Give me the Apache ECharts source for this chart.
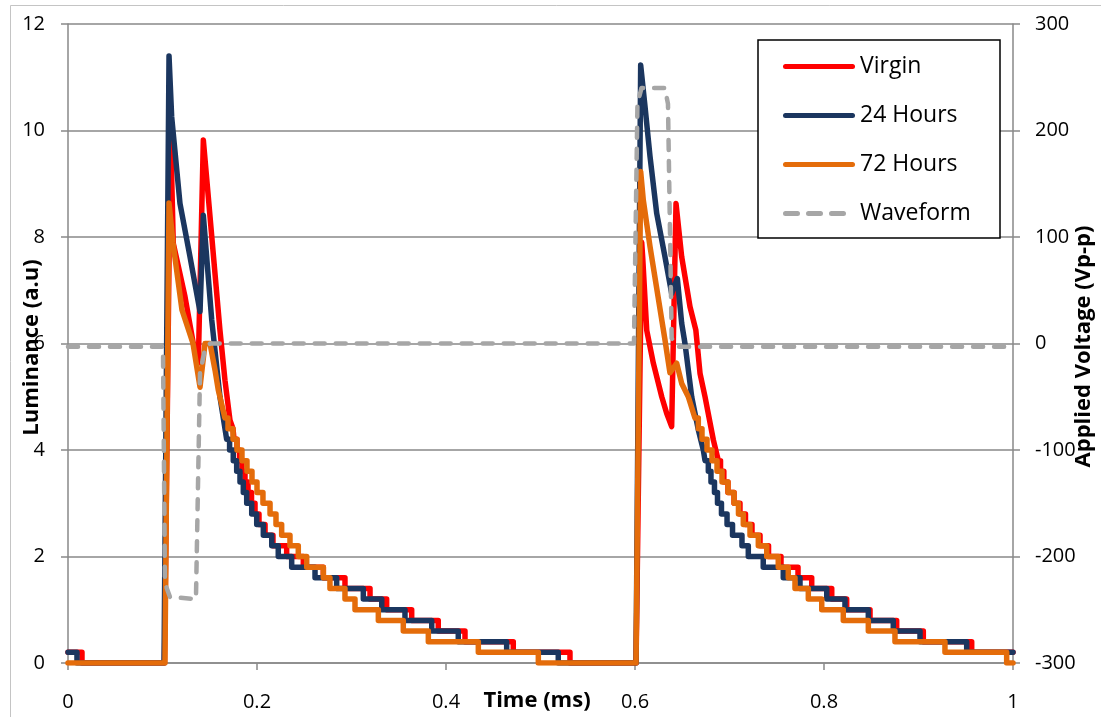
<!DOCTYPE html>
<html>
<head>
<meta charset="utf-8">
<script src="https://cdn.jsdelivr.net/npm/echarts@6/dist/echarts.min.js"></script>
<style>
  html, body { margin: 0; padding: 0; background: #fff; }
  #chart { width: 1101px; height: 717px; }
</style>
</head>
<body>
<div id="chart"></div>
<script>
// Tick labels
const timeTicks = ['0', '0.2', '0.4', '0.6', '0.8', '1'];
const lumTicks = ['0', '2', '4', '6', '8', '10', '12'];
const voltTicks = ['-300', '-200', '-100', '0', '100', '200', '300'];

const seriesNames = ['Virgin', '24 Hours', '72 Hours', 'Waveform'];

// Luminance traces: [time (ms), luminance (a.u)]
const virgin = [
  [0, 0.2], [0.0148, 0.2], [0.0148, 0],
  [0.1021, 0], [0.1085, 10.05], [0.1114, 7.88], [0.1238, 6.88], [0.1326, 6.0], [0.1379, 5.63],
  [0.1432, 9.82], [0.1608, 6.25], [0.1661, 5.31], [0.1714, 4.56], [0.1746, 4.4],
  [0.1757, 4.4], [0.1757, 4.2], [0.1788, 4.2], [0.1788, 4.0], [0.1815, 4.0], [0.1815, 3.8],
  [0.1841, 3.8], [0.1841, 3.6], [0.1873, 3.6], [0.1873, 3.4], [0.1905, 3.4], [0.1905, 3.2],
  [0.1942, 3.2], [0.1942, 3.0], [0.1979, 3.0], [0.1979, 2.8], [0.2021, 2.8], [0.2021, 2.6],
  [0.2085, 2.6], [0.2085, 2.4], [0.2169, 2.4], [0.2169, 2.2], [0.2314, 2.2], [0.2314, 2.0],
  [0.2490, 2.0], [0.2490, 1.8], [0.2702, 1.8], [0.2702, 1.6], [0.2931, 1.6], [0.2931, 1.4],
  [0.3196, 1.4], [0.3196, 1.2], [0.3372, 1.2], [0.3372, 1.0], [0.3637, 1.0], [0.3637, 0.8],
  [0.3918, 0.8], [0.3918, 0.6], [0.4201, 0.6], [0.4201, 0.4], [0.4712, 0.4], [0.4712, 0.2],
  [0.5312, 0.2], [0.5312, 0],
  [0.6011, 0], [0.6071, 7.9], [0.6081, 7.63], [0.6124, 6.25], [0.6194, 5.63], [0.6283, 5.0],
  [0.6335, 4.69], [0.6388, 4.44], [0.6434, 8.63], [0.6494, 7.63], [0.6582, 6.69], [0.6644, 6.25],
  [0.6688, 5.44], [0.6741, 5.0], [0.6829, 4.19], [0.6882, 3.8],
  [0.6905, 3.8], [0.6905, 3.6], [0.6940, 3.6], [0.6940, 3.4], [0.6984, 3.4], [0.6984, 3.2],
  [0.7048, 3.2], [0.7048, 3.0], [0.7111, 3.0], [0.7111, 2.8], [0.7169, 2.8], [0.7169, 2.6],
  [0.7238, 2.6], [0.7238, 2.4], [0.7323, 2.4], [0.7323, 2.2], [0.7413, 2.2], [0.7413, 2.0],
  [0.7545, 2.0], [0.7545, 1.8], [0.7725, 1.8], [0.7725, 1.6], [0.7870, 1.6], [0.7870, 1.4],
  [0.8082, 1.4], [0.8082, 1.2], [0.8240, 1.2], [0.8240, 1.0], [0.8487, 1.0], [0.8487, 0.8],
  [0.8769, 0.8], [0.8769, 0.6], [0.9051, 0.6], [0.9051, 0.4], [0.9563, 0.4], [0.9563, 0.2],
  [1, 0.2]
];

const hours24 = [
  [0, 0.2], [0.0095, 0.2], [0.0095, 0],
  [0.1016, 0], [0.1069, 11.4], [0.1097, 10.26], [0.1185, 8.63], [0.1291, 7.63], [0.1397, 6.6],
  [0.1432, 8.41], [0.1521, 6.44], [0.1608, 5.0], [0.1679, 4.2],
  [0.1710, 4.2], [0.1710, 4.0], [0.1749, 4.0], [0.1749, 3.8], [0.1785, 3.8], [0.1785, 3.6],
  [0.1820, 3.6], [0.1820, 3.4], [0.1855, 3.4], [0.1855, 3.2], [0.1891, 3.2], [0.1891, 3.0],
  [0.1944, 3.0], [0.1944, 2.8], [0.1997, 2.8], [0.1997, 2.6], [0.2067, 2.6], [0.2067, 2.4],
  [0.2156, 2.4], [0.2156, 2.2], [0.2225, 2.2], [0.2225, 2.0], [0.2367, 2.0], [0.2367, 1.8],
  [0.2614, 1.8], [0.2614, 1.6], [0.2843, 1.6], [0.2843, 1.4], [0.3125, 1.4], [0.3125, 1.2],
  [0.3320, 1.2], [0.3320, 1.0], [0.3566, 1.0], [0.3566, 0.8], [0.3849, 0.8], [0.3849, 0.6],
  [0.4130, 0.6], [0.4130, 0.4], [0.4642, 0.4], [0.4642, 0.2], [0.5188, 0.2], [0.5188, 0],
  [0.6011, 0], [0.6060, 11.23], [0.6106, 10.45], [0.6159, 9.51], [0.6230, 8.44], [0.6317, 7.63],
  [0.6388, 6.94], [0.6448, 7.22], [0.6494, 6.38], [0.6529, 6.0], [0.6600, 5.0], [0.6670, 4.38],
  [0.6723, 4.0],
  [0.6741, 4.0], [0.6741, 3.8], [0.6776, 3.8], [0.6776, 3.6], [0.6804, 3.6], [0.6804, 3.4],
  [0.6841, 3.4], [0.6841, 3.2], [0.6873, 3.2], [0.6873, 3.0], [0.6915, 3.0], [0.6915, 2.8],
  [0.6974, 2.8], [0.6974, 2.6], [0.7032, 2.6], [0.7032, 2.4], [0.7132, 2.4], [0.7132, 2.2],
  [0.7199, 2.2], [0.7199, 2.0], [0.7357, 2.0], [0.7357, 1.8], [0.7569, 1.8], [0.7569, 1.6],
  [0.7746, 1.6], [0.7746, 1.4], [0.8029, 1.4], [0.8029, 1.2], [0.8222, 1.2], [0.8222, 1.0],
  [0.8469, 1.0], [0.8469, 0.8], [0.8733, 0.8], [0.8733, 0.6], [0.9016, 0.6], [0.9016, 0.4],
  [0.9510, 0.4], [0.9510, 0.2], [1, 0.2]
];

const hours72 = [
  [0, 0], [0.1026, 0], [0.1069, 8.64], [0.1111, 7.89], [0.1206, 6.63], [0.1323, 6.0],
  [0.1397, 5.18], [0.1450, 6.0], [0.1503, 6.0], [0.1556, 5.5], [0.1590, 5.13], [0.1661, 4.6],
  [0.1693, 4.6], [0.1693, 4.4], [0.1746, 4.4], [0.1746, 4.2], [0.1788, 4.2], [0.1788, 4.0],
  [0.1841, 4.0], [0.1841, 3.8], [0.1894, 3.8], [0.1894, 3.6], [0.1947, 3.6], [0.1947, 3.4],
  [0.2000, 3.4], [0.2000, 3.2], [0.2063, 3.2], [0.2063, 3.0], [0.2138, 3.0], [0.2138, 2.8],
  [0.2201, 2.8], [0.2201, 2.6], [0.2261, 2.6], [0.2261, 2.4], [0.2349, 2.4], [0.2349, 2.2],
  [0.2437, 2.2], [0.2437, 2.0], [0.2526, 2.0], [0.2526, 1.8], [0.2702, 1.8], [0.2702, 1.6],
  [0.2772, 1.6], [0.2772, 1.4], [0.2931, 1.4], [0.2931, 1.2], [0.3037, 1.2], [0.3037, 1.0],
  [0.3284, 1.0], [0.3284, 0.8], [0.3548, 0.8], [0.3548, 0.6], [0.3813, 0.6], [0.3813, 0.4],
  [0.4342, 0.4], [0.4342, 0.2], [0.4977, 0.2], [0.4977, 0],
  [0.6011, 0], [0.6060, 9.23], [0.6088, 8.69], [0.6159, 7.82], [0.6233, 7.0], [0.6317, 6.07],
  [0.6370, 5.45], [0.6441, 5.63], [0.6494, 5.25], [0.6564, 5.0], [0.6635, 4.6],
  [0.6670, 4.6], [0.6670, 4.4], [0.6709, 4.4], [0.6709, 4.2], [0.6762, 4.2], [0.6762, 4.0],
  [0.6815, 4.0], [0.6815, 3.8], [0.6868, 3.8], [0.6868, 3.6], [0.6921, 3.6], [0.6921, 3.4],
  [0.6984, 3.4], [0.6984, 3.2], [0.7048, 3.2], [0.7048, 3.0], [0.7095, 3.0], [0.7095, 2.8],
  [0.7146, 2.8], [0.7146, 2.6], [0.7217, 2.6], [0.7217, 2.4], [0.7305, 2.4], [0.7305, 2.2],
  [0.7394, 2.2], [0.7394, 2.0], [0.7516, 2.0], [0.7516, 1.8], [0.7622, 1.8], [0.7622, 1.6],
  [0.7693, 1.6], [0.7693, 1.4], [0.7834, 1.4], [0.7834, 1.2], [0.7976, 1.2], [0.7976, 1.0],
  [0.8204, 1.0], [0.8204, 0.8], [0.8469, 0.8], [0.8469, 0.6], [0.8751, 0.6], [0.8751, 0.4],
  [0.9280, 0.4], [0.9280, 0.2], [0.9933, 0.2], [0.9933, 0], [1, 0]
];

// Applied voltage: [time (ms), volts]
const waveform = [
  [0, -3], [0.1005, -3], [0.1026, -225], [0.1079, -238], [0.1354, -240], [0.1397, -28],
  [0.1450, -5], [0.1503, 0], [0.5989, 0], [0.6026, 225], [0.6069, 240], [0.6315, 240],
  [0.6349, 225], [0.6388, 5], [0.6455, -3], [1, -3]
];

const FONT = 'Open Sans';
const AXIS_GRAY = '#898989';
const COLORS = ['#ff0000', '#1b365f', '#e46c0a', '#a6a6a6'];

// Legend keys: a rounded bar for solid traces, three rounded dashes for the waveform
// (the trailing move-to keeps the dashed key's box 72 units wide)
const SOLID_KEY = 'path://M2.5,0H69.5A2.5,2.5 0 0 1 69.5,5H2.5A2.5,2.5 0 0 1 2.5,0Z';
const DASH_KEY = 'path://M2.5,0H14.5A2.5,2.5 0 0 1 14.5,5H2.5A2.5,2.5 0 0 1 2.5,0Z' +
  'M25.5,0H37.5A2.5,2.5 0 0 1 37.5,5H25.5A2.5,2.5 0 0 1 25.5,0Z' +
  'M48.5,0H60.5A2.5,2.5 0 0 1 60.5,5H48.5A2.5,2.5 0 0 1 48.5,0Z' +
  'M72,5';

const chart = echarts.init(document.getElementById('chart'), null, { renderer: 'canvas' });

function traceLine(name, data, color, yIndex, dashed) {
  return {
    name: name,
    type: 'line',
    data: data,
    yAxisIndex: yIndex,
    symbol: 'none',
    showSymbol: false,
    smooth: false,
    animation: false,
    lineStyle: {
      color: color,
      width: dashed ? 4.5 : 5.5,
      type: dashed ? [10, 11] : 'solid',
      cap: 'round',
      join: 'round'
    },
    itemStyle: { color: color }
  };
}

const titleStyle = { fontFamily: FONT, fontSize: 22, fontWeight: 'bold', color: '#000' };

const option = {
  animation: false,
  backgroundColor: '#ffffff',
  textStyle: { fontFamily: FONT },
  grid: {
    left: 68, right: 88, top: 24, bottom: 54,
    containLabel: false,
    outerBoundsMode: 'none'
  },
  legend: {
    data: [
      { name: seriesNames[0], icon: SOLID_KEY },
      { name: seriesNames[1], icon: SOLID_KEY },
      { name: seriesNames[2], icon: SOLID_KEY },
      { name: seriesNames[3], icon: DASH_KEY }
    ],
    orient: 'vertical',
    left: 783,
    top: 55,
    padding: 0,
    itemWidth: 72,
    itemHeight: 5,
    itemGap: 26,
    z: 10,
    textStyle: { fontFamily: FONT, fontSize: 23, color: '#000' }
  },
  graphic: [
    {
      type: 'rect', z: -1, silent: true,
      shape: { x: 10.5, y: 5.5, width: 1200, height: 800 },
      style: { fill: 'none', stroke: '#c4c4c4', lineWidth: 1 }
    },
    {
      type: 'rect', z: 9, silent: true,
      shape: { x: 758, y: 40, width: 242, height: 198 },
      style: { fill: '#ffffff', stroke: '#000000', lineWidth: 1.5 }
    }
  ],
  xAxis: {
    type: 'value',
    min: 0, max: 1, interval: 0.2,
    name: 'Time (ms)',
    nameLocation: 'middle',
    nameGap: 27,
    nameMoveOverlap: false,
    nameTextStyle: Object.assign({}, titleStyle, { padding: [0, 7, 0, 0] }),
    axisLine: { show: true, lineStyle: { color: AXIS_GRAY, width: 1.5 } },
    axisTick: { show: true, inside: false, length: 7, lineStyle: { color: AXIS_GRAY, width: 1.5 } },
    splitLine: { show: false },
    axisLabel: {
      margin: 29, fontSize: 20, color: '#000', fontFamily: FONT,
      formatter: v => timeTicks[Math.round(v / 0.2)]
    }
  },
  yAxis: [
    {
      type: 'value',
      min: 0, max: 12, interval: 2,
      position: 'left',
      name: 'Luminance (a.u)',
      nameLocation: 'middle',
      nameRotate: 90,
      nameGap: 25,
      nameMoveOverlap: false,
      nameTextStyle: Object.assign({}, titleStyle, { padding: [0, 8, 0, 0] }),
      axisLine: { show: true, lineStyle: { color: AXIS_GRAY, width: 1.5 } },
      axisTick: { show: true, inside: false, length: 7, lineStyle: { color: AXIS_GRAY, width: 1.5 } },
      splitLine: { show: true, lineStyle: { color: AXIS_GRAY, width: 1.5 } },
      axisLabel: {
        margin: 23, fontSize: 20, color: '#000', fontFamily: FONT,
        formatter: v => lumTicks[Math.round(v / 2)]
      }
    },
    {
      type: 'value',
      min: -300, max: 300, interval: 100,
      position: 'right',
      name: 'Applied Voltage (Vp-p)',
      nameLocation: 'middle',
      nameRotate: 90,
      nameGap: 60,
      nameMoveOverlap: false,
      nameTextStyle: Object.assign({}, titleStyle, { padding: [0, 6, 0, 0] }),
      axisLine: { show: true, lineStyle: { color: AXIS_GRAY, width: 1.5 } },
      axisTick: { show: true, inside: false, length: 7, lineStyle: { color: AXIS_GRAY, width: 1.5 } },
      splitLine: { show: false },
      axisLabel: {
        margin: 22, fontSize: 20, color: '#000', fontFamily: FONT,
        formatter: v => voltTicks[Math.round((v + 300) / 100)]
      }
    }
  ],
  series: [
    traceLine(seriesNames[0], virgin, COLORS[0], 0, false),
    traceLine(seriesNames[1], hours24, COLORS[1], 0, false),
    traceLine(seriesNames[2], hours72, COLORS[2], 0, false),
    traceLine(seriesNames[3], waveform, COLORS[3], 1, true)
  ]
};

chart.setOption(option);
</script>
</body>
</html>
